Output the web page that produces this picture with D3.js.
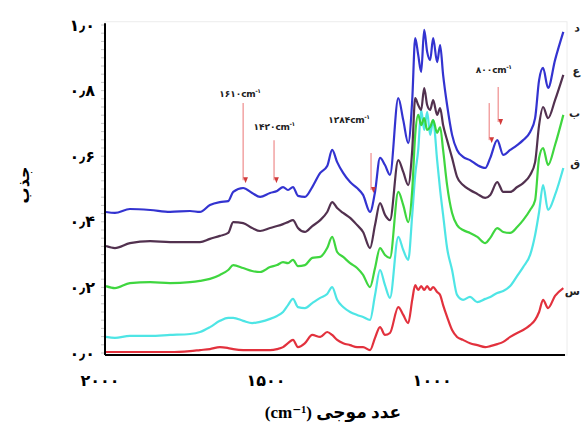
<!DOCTYPE html>
<html>
<head>
<meta charset="utf-8">
<script src="https://cdn.jsdelivr.net/npm/d3@7/dist/d3.min.js"></script>
<style>
  html, body { margin: 0; padding: 0; background: #fff; }
  svg { display: block; }
</style>
</head>
<body>
<svg id="chart" width="582" height="427"></svg>
<script>
// ---- data (wavenumber in cm-1, absorbance) ----
const wavenumbers = [1982,1955,1910,1849,1789,1729,1699,1669,1639,1614,1599,1569,1542,1518,1488,1467,1449,1434,1419,1404,1383,1361,1337,1316,1301,1286,1268,1247,1226,1208,1187,1172,1157,1142,1127,1102,1087,1072,1060,1051,1042,1033,1024,1015,1006,997,985,976,967,955,940,925,907,886,864,840,825,804,786,765,744,726,705,690,678,666,651,630,605];

const blueValues = [0.430,0.427,0.439,0.436,0.430,0.433,0.430,0.451,0.460,0.463,
  0.491,0.503,0.488,0.476,0.488,0.494,0.506,0.497,0.506,0.479,
  0.476,0.506,0.549,0.570,0.619,0.582,0.549,0.521,0.503,0.482,
  0.430,0.491,0.595,0.573,0.543,0.777,0.710,0.640,0.771,0.960,
  0.909,0.857,0.985,0.918,0.893,0.960,0.887,0.939,0.848,0.756,
  0.665,0.619,0.598,0.588,0.573,0.564,0.595,0.649,0.604,0.619,
  0.634,0.649,0.674,0.716,0.832,0.869,0.808,0.893,0.979];

const purpleValues = [0.326,0.320,0.335,0.341,0.338,0.338,0.338,0.348,0.357,0.366,
  0.399,0.396,0.381,0.372,0.381,0.387,0.393,0.399,0.405,0.381,
  0.369,0.387,0.405,0.430,0.460,0.442,0.427,0.412,0.390,0.369,
  0.320,0.390,0.457,0.421,0.405,0.588,0.552,0.512,0.619,0.777,
  0.756,0.741,0.808,0.756,0.741,0.771,0.726,0.747,0.695,0.649,
  0.595,0.537,0.512,0.497,0.485,0.473,0.482,0.521,0.491,0.491,
  0.506,0.518,0.543,0.582,0.695,0.750,0.716,0.771,0.848];

const greenValues = [0.204,0.198,0.213,0.216,0.213,0.216,0.220,0.226,0.238,0.253,
  0.268,0.259,0.250,0.247,0.262,0.268,0.277,0.274,0.284,0.265,
  0.268,0.290,0.293,0.320,0.354,0.308,0.293,0.274,0.259,0.238,
  0.201,0.259,0.320,0.299,0.290,0.491,0.451,0.399,0.497,0.665,
  0.726,0.695,0.716,0.680,0.689,0.710,0.671,0.689,0.619,0.512,
  0.427,0.390,0.375,0.366,0.354,0.335,0.351,0.381,0.369,0.366,
  0.384,0.405,0.436,0.466,0.595,0.625,0.573,0.634,0.726];

const cyanValues = [0.049,0.046,0.052,0.052,0.055,0.058,0.064,0.079,0.098,0.107,
  0.107,0.098,0.091,0.095,0.104,0.113,0.125,0.146,0.165,0.140,
  0.137,0.152,0.168,0.180,0.201,0.162,0.140,0.125,0.116,0.110,
  0.101,0.177,0.253,0.207,0.168,0.354,0.314,0.284,0.421,0.543,
  0.619,0.741,0.680,0.735,0.665,0.710,0.588,0.497,0.421,0.320,
  0.253,0.177,0.162,0.171,0.155,0.165,0.171,0.183,0.189,0.204,
  0.235,0.262,0.299,0.360,0.430,0.512,0.436,0.482,0.564];

const redValues = [0.003,0.003,0.003,0.003,0.003,0.006,0.009,0.012,0.018,0.015,
  0.012,0.009,0.009,0.009,0.009,0.012,0.018,0.030,0.040,0.018,
  0.030,0.055,0.049,0.064,0.055,0.040,0.030,0.024,0.018,0.018,
  0.009,0.046,0.079,0.055,0.061,0.140,0.116,0.091,0.162,0.207,
  0.192,0.204,0.192,0.204,0.192,0.201,0.186,0.177,0.146,0.110,
  0.070,0.049,0.040,0.030,0.024,0.018,0.021,0.027,0.034,0.049,
  0.061,0.070,0.085,0.101,0.125,0.162,0.137,0.174,0.198];

const seriesNames = ["س", "ق", "ب", "ع", "د"];
const seriesColors = ["#e0202c", "#3fe3e3", "#2fd32f", "#432040", "#2222cc"];
const seriesData = [redValues, cyanValues, greenValues, purpleValues, blueValues];
const seriesLabelValues = [0.19, 0.58, 0.73, 0.86, 0.99];

const xTickValues = [2000, 1500, 1000];
const xTickLabels = ["۲۰۰۰", "۱۵۰۰", "۱۰۰۰"];
const yTickValues = [0, 0.2, 0.4, 0.6, 0.8, 1.0];
const yTickLabels = ["۰٫۰", "۰٫۲", "۰٫۴", "۰٫۶", "۰٫۸", "۱٫۰"];

const annotationLabels = ["۱۶۱۰", "۱۴۲۰", "۱۲۸۴", "۸۰۰"];
const annotationLabelPos = [[1578, 0.780], [1475, 0.679], [1250, 0.701], [814, 0.855]];
const arrows = [[1569, 0.762, 0.527], [1476, 0.649, 0.527], [1184, 0.610, 0.497], [828, 0.762, 0.649], [801, 0.811, 0.704]];

const xTitle = "عدد موجی (cm⁻¹)";
const yTitle = "جذب";

// ---- drawing ----
const svg = d3.select("#chart");
const x = d3.scaleLinear().domain([1985, 600]).range([105, 565]);
const y = d3.scaleLinear().domain([0, 1]).range([353, 25]);

const defs = svg.append("defs");
defs.append("marker").attr("id", "ah").attr("viewBox", "0 0 10 10")
  .attr("refX", 5).attr("refY", 9).attr("markerWidth", 4).attr("markerHeight", 4)
  .attr("orient", "auto")
  .append("path").attr("d", "M0,1 L10,5 L0,9 Z").attr("fill", "#d23a3a");

// faint frame
svg.append("rect").attr("x", x(1985)).attr("y", y(1.01)).attr("width", x(600) - x(1985) + 2)
  .attr("height", y(0) - y(1.01) + 2).attr("fill", "none").attr("stroke", "#ececec").attr("stroke-width", 1);

// minor y ticks
const minor = d3.range(0, 1.0001, 0.025);
svg.append("g").selectAll("line").data(minor).join("line")
  .attr("x1", x(1985) - 4).attr("x2", x(1985)).attr("y1", d => y(d)).attr("y2", d => y(d))
  .attr("stroke", "#c8c8c8").attr("stroke-width", 1);

// lines
const line = d3.line().x((d, i) => x(wavenumbers[i])).y(d => y(d)).curve(d3.curveMonotoneX);
seriesData.forEach((vals, k) => {
  svg.append("path").datum(vals).attr("d", line).attr("fill", "none")
    .attr("stroke", seriesColors[k]).attr("stroke-width", 2.2).attr("stroke-linejoin", "round")
    .attr("opacity", 0.92);
});

// axes lines
svg.append("line").attr("x1", x(1985)).attr("x2", x(1985)).attr("y1", y(1.005)).attr("y2", y(0) + 2)
  .attr("stroke", "#000").attr("stroke-width", 2);
svg.append("line").attr("x1", x(1985)).attr("x2", x(600)).attr("y1", y(0) + 2).attr("y2", y(0) + 2)
  .attr("stroke", "#000").attr("stroke-width", 2);

// y tick labels
svg.append("g").selectAll("text").data(yTickValues).join("text")
  .attr("x", x(1985) - 10).attr("y", d => y(d)).attr("dy", "0.35em")
  .attr("text-anchor", "end").attr("font-family", "DejaVu Sans").attr("font-weight", "bold")
  .attr("font-size", 16).text((d, i) => yTickLabels[i]);

// x tick labels
svg.append("g").selectAll("text").data(xTickValues).join("text")
  .attr("x", d => x(d)).attr("y", 386).attr("text-anchor", "middle")
  .attr("font-family", "DejaVu Sans").attr("font-weight", "bold").attr("font-size", 16)
  .text((d, i) => xTickLabels[i]);

// axis titles
svg.append("text").attr("x", 333).attr("y", 418).attr("text-anchor", "middle")
  .attr("direction", "rtl")
  .attr("font-family", "Liberation Serif, DejaVu Sans").attr("font-weight", "bold").attr("font-size", 17)
  .text(xTitle);
svg.append("text").attr("transform", "translate(29,185) rotate(-90)").attr("text-anchor", "middle")
  .attr("font-family", "DejaVu Sans").attr("font-weight", "bold").attr("font-size", 16)
  .text(yTitle);

// arrows
svg.append("g").selectAll("line").data(arrows).join("line")
  .attr("x1", d => x(d[0])).attr("x2", d => x(d[0]))
  .attr("y1", d => y(d[1])).attr("y2", d => y(d[2]))
  .attr("stroke", "#f2a3a3").attr("stroke-width", 1.5).attr("marker-end", "url(#ah)");

// annotation labels
const ann = svg.append("g").selectAll("text").data(annotationLabels).join("text")
  .attr("x", (d, i) => x(annotationLabelPos[i][0])).attr("y", (d, i) => y(annotationLabelPos[i][1]))
  .attr("text-anchor", "middle").attr("font-family", "DejaVu Sans").attr("font-weight", "bold")
  .attr("font-size", 9).attr("fill", "#222").attr("letter-spacing", -0.4);
ann.append("tspan").text(d => d);
ann.append("tspan").text("cm");
ann.append("tspan").attr("font-size", 6).attr("dy", -4).text("-۱");

// right-side labels
svg.append("g").selectAll("text").data(seriesNames).join("text")
  .attr("x", 580).attr("y", (d, i) => y(seriesLabelValues[i])).attr("dy", "0.35em")
  .attr("text-anchor", "end")
  .attr("font-family", "DejaVu Sans").attr("font-weight", "bold").attr("font-size", 11)
  .attr("fill", "#222").text(d => d);
</script>
</body>
</html>
